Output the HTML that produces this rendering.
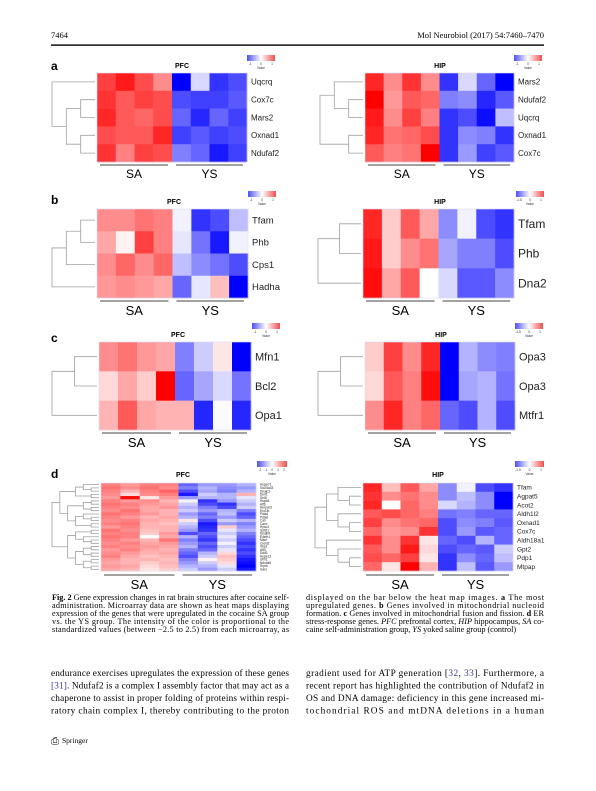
<!DOCTYPE html>
<html><head><meta charset="utf-8"><style>
html,body{margin:0;padding:0;background:#fff;width:596px;height:791px;overflow:hidden}
svg{display:block}
.serif{font-family:"Liberation Serif",serif}
.sans{font-family:"Liberation Sans",sans-serif}
</style></head><body>
<svg id="page" width="596" height="791" viewBox="0 0 596 791" xmlns="http://www.w3.org/2000/svg">
<text x="51" y="38" class="serif" font-size="8.5">7464</text>
<text x="544" y="38" class="serif" font-size="8.5" text-anchor="end">Mol Neurobiol (2017) 54:7460–7470</text>
<rect x="51" y="44.4" width="493" height="1.4" fill="#000"/>
<g id="charts"></g>
<g class="serif" font-size="8.2">
<text x="52" y="600" textLength="237" lengthAdjust="spacing"><tspan font-weight="bold">Fig. 2</tspan>  Gene expression changes in rat brain structures after cocaine self-</text>
<text x="52" y="608" textLength="237" lengthAdjust="spacing">administration. Microarray data are shown as heat maps displaying</text>
<text x="52" y="616" textLength="237" lengthAdjust="spacing">expression of the genes that were upregulated in the cocaine SA group</text>
<text x="52" y="624" textLength="237" lengthAdjust="spacing">vs. the YS group. The intensity of the color is proportional to the</text>
<text x="52" y="632" textLength="237" lengthAdjust="spacing">standardized values (between −2.5 to 2.5) from each microarray, as</text>
<text x="306" y="600" textLength="238" lengthAdjust="spacing">displayed on the bar below the heat map images. <tspan font-weight="bold">a</tspan> The most</text>
<text x="306" y="608" textLength="238" lengthAdjust="spacing">upregulated genes. <tspan font-weight="bold">b</tspan> Genes involved in mitochondrial nucleoid</text>
<text x="306" y="616" textLength="238" lengthAdjust="spacing">formation. <tspan font-weight="bold">c</tspan> Genes involved in mitochondrial fusion and fission. <tspan font-weight="bold">d</tspan> ER</text>
<text x="306" y="624" textLength="238" lengthAdjust="spacing">stress-response genes. <tspan font-style="italic">PFC</tspan> prefrontal cortex, <tspan font-style="italic">HIP</tspan> hippocampus, <tspan font-style="italic">SA</tspan> co-</text>
<text x="306" y="632">caine self-administration group, <tspan font-style="italic">YS</tspan> yoked saline group (control)</text>
</g>
<g class="serif" font-size="9.3">
<text x="51" y="676" textLength="238" lengthAdjust="spacing">endurance exercises upregulates the expression of these genes</text>
<text x="51" y="688.5" textLength="238" lengthAdjust="spacing"><tspan fill="#3a3aa0">[31]</tspan>. Ndufaf2 is a complex I assembly factor that may act as a</text>
<text x="51" y="701" textLength="238" lengthAdjust="spacing">chaperone to assist in proper folding of proteins within respi-</text>
<text x="51" y="713.5" textLength="238" lengthAdjust="spacing">ratory chain complex I, thereby contributing to the proton</text>
<text x="306" y="676" textLength="238" lengthAdjust="spacing">gradient used for ATP generation [<tspan fill="#3a3aa0">32</tspan>, <tspan fill="#3a3aa0">33</tspan>]. Furthermore, a</text>
<text x="306" y="688.5" textLength="238" lengthAdjust="spacing">recent report has highlighted the contribution of Ndufaf2 in</text>
<text x="306" y="701" textLength="238" lengthAdjust="spacing">OS and DNA damage: deficiency in this gene increased mi-</text>
<text x="306" y="713.5" textLength="238" lengthAdjust="spacing">tochondrial ROS and mtDNA deletions in a human</text>
</g>
<g>
<text x="51" y="744" class="serif" font-size="10">⎙</text>
<text x="62" y="743" class="serif" font-size="7.5">Springer</text>
</g>
</svg>
<script>
// ---- data arrays ----
const colsSA = ["SA1","SA2","SA3","SA4"];
const colsYS = ["YS1","YS2","YS3","YS4"];
const aPfcGenes = ["Uqcrq","Cox7c","Mars2","Oxnad1","Ndufaf2"];
const aPfcValues = [
 [.75,.9,.7,.45,-1,-.15,-.8,-.7],
 [.8,.65,.75,.7,-.7,-.75,-.75,-.65],
 [.85,.65,.6,.7,-.6,-.85,-.6,-.75],
 [.7,.65,.65,.85,-.75,-.65,-.75,-.7],
 [.8,.5,.75,.7,-.5,-.6,-.9,-.75]];
const aHipGenes = ["Mars2","Ndufaf2","Uqcrq","Oxnad1","Cox7c"];
const aHipValues = [
 [.85,.45,.8,.45,-.8,-.15,-.6,-1],
 [1,.4,.65,.6,-.5,-.45,-.85,-.65],
 [.9,.45,.75,.5,-.8,-.7,-.95,-.25],
 [.85,.55,.6,.7,-.8,-.45,-.5,-.8],
 [.65,.5,.55,1,-.8,-.4,-.75,-.65]];
const bPfcGenes = ["Tfam","Phb","Cps1","Hadha"];
const bPfcValues = [
 [.45,.45,.55,.5,-.05,-.8,-.7,-.25],
 [.35,.05,.75,.5,-.1,-.55,-.9,-.05],
 [.45,.6,.45,.6,-.25,-.45,-.55,-.7],
 [.4,.45,.4,.35,-.6,-.1,.25,-1]];
const bHipGenes = ["Tfam","Phb","Dna2"];
const bHipValues = [
 [.85,.2,.65,.35,-.45,-.05,-.7,-.8],
 [.9,.2,.45,.55,-.35,-.5,-.5,-.7],
 [.95,.35,.65,0,-.15,-.65,-.65,-.45]];
const cPfcGenes = ["Mfn1","Bcl2","Opa1"];
const cPfcValues = [
 [.45,.55,.4,.35,-.5,-.2,.1,-1],
 [.15,.35,.2,1,-.6,-.35,-.15,-.55],
 [.3,.65,.35,.3,.3,-.85,-.02,-.85]];
const cHipGenes = ["Opa3","Opa3","Mtfr1"];
const cHipValues = [
 [.2,.75,.45,.85,-1,-.3,-.45,-.5],
 [.15,.65,.5,.95,-1,-.35,-.3,-.55],
 [.45,.85,.5,.6,-.6,-.7,-.3,-.7]];
const dPfcGenes = ["Aspscr1","Slc25a33","Dnajc3","Derl1","Sel1l","Hspa5","Atf6","Herpud1","Ero1lb","Pdia4","Pdia6","Calr","Canx","Hyou1","Sdf2l1","Dnajb9","Edem1","Manf","Creld2","Xbp1","Atf4","Ddit3","Hspa13","Ufm1","Ndufaf4","Srprb","Gars"];
const dPfcValues = [
 [.5,.4,.5,.5,-.6,-.4,-.4,-.3],[.55,.45,.55,.45,-.5,-.3,-.45,-.4],[.5,.3,.5,.6,-.7,-.35,-.5,-.3],
 [.45,.15,.45,.5,-.9,-.2,-.3,.3],[.4,.95,.1,.4,-.4,-.3,-.3,-.1],[.5,.4,.45,.3,-.05,-.8,-.4,-.2],
 [.55,.5,.4,.35,-.2,-.7,-.8,-.3],[.5,.45,.35,.4,-.3,-.5,-.7,-.2],[.45,.55,.35,.3,-.2,-.4,-.3,-.5],
 [.55,.5,.4,.3,-.4,-.6,-.25,-.7],[.5,.4,.3,.35,-.3,-.5,-.4,-.6],[.45,.5,.35,.3,.1,-.7,-.2,-.3],
 [.5,.55,.3,.25,-.2,-.9,-.4,-.5],[.4,.5,.3,.3,-.3,-.85,.2,-.4],[.55,.45,.25,.3,-.4,-.8,-.1,-.3],
 [.5,.5,.2,.4,-.7,-.6,-.2,-.5],[.55,.5,0,.35,-.3,-.7,-.1,-.6],[.5,.4,.3,.55,-.5,-.8,-.2,-.7],
 [.45,.5,.35,.4,-.4,-.6,-.05,-.8],[.5,.45,.4,.35,-.3,-.7,-.2,-.7],[.4,.5,.35,.3,-.5,-.6,-.1,-.8],
 [.45,.4,.3,.35,-.6,-.3,.15,-.7],[.5,.35,.25,.3,-.7,-.2,.25,-.8],[.4,.3,.3,.25,-.5,.05,.2,-.9],
 [.35,.3,.2,.3,-.4,-.2,.15,-.95],[.4,.35,.15,.25,-.3,-.3,-.1,-1],[.35,.3,.1,.2,-.2,-.4,-.2,-.9]];
const dHipGenes = ["Tfam","Agpat5","Acot2","Aldh1l2","Oxnad1","Cox7c","Aldh18a1","Gpt2","Pdp1","Mtpap"];
const dHipValues = [
 [.85,.25,.65,.35,-.45,-.05,-.7,-.8],[.8,.45,.55,.45,-.45,-.25,-.45,-1],[.85,0,.6,.45,-.15,-.3,-.45,-1],
 [.65,.7,.6,.5,-.55,-.5,-.6,-.6],[.75,.45,.55,.6,-.7,-.45,-.5,-.65],[.6,.4,.45,.8,-.7,-.4,-.65,-.6],
 [.8,.45,.8,.1,-.6,-.7,-.3,-.6],[.65,.45,.9,.15,-.7,-.6,-.65,-.2],[.7,.6,.75,.1,-.8,-.45,-.6,-.25],
 [.6,.1,1,.3,-.8,-.25,-.65,-.4]];
const legendTicksSmall = ["-1","0","1"];
const legendTicksHip = ["-1.5","0","1"];
const legendTicksD = ["-2","-1","0","1","2"];

const NS = "http://www.w3.org/2000/svg";
const root = document.getElementById("charts");
function el(tag, attrs, parent){const e=document.createElementNS(NS,tag);for(const k in attrs)e.setAttribute(k,attrs[k]);(parent||root).appendChild(e);return e;}
function color(v){v=Math.max(-1,Math.min(1,v));if(v>=0){const g=Math.round(255*(1-v));return `rgb(255,${g},${g})`;}const g=Math.round(255*(1+v));return `rgb(${g},${g},255)`;}
function depth(n){return typeof n==="number"?0:1+Math.max(depth(n[0]),depth(n[1]));}

function heat(p){
  const g = el("g",{});
  
  
  const nR=p.values.length, nC=colsSA.length+colsYS.length;
  const cw=(p.x1-p.x0)/nC, rh=(p.y1-p.y0)/nR;
  const xs=c=>p.x0+c*cw, ys=r=>p.y0+r*rh;
  p.values.forEach((row,r)=>row.forEach((v,c)=>{
    const cell=el("rect",{x:xs(c),y:ys(r),width:cw+0.3,height:rh+0.3,fill:color(v)},g);
    
    
  }));
  el("rect",{x:p.x0,y:p.y0,width:p.x1-p.x0,height:p.y1-p.y0,fill:"none",stroke:"#dde","stroke-width":0.6},g);
  p.genes.forEach((gn,r)=>{
    const t=el("text",{x:p.x1+4,y:ys(r)+rh/2+p.fs*0.35,"font-size":p.fs,"font-family":"Liberation Sans, sans-serif",fill:"#222"},g);
    t.textContent=gn;
    
    
  });
  const unit=(p.x0-2-p.dx)/depth(p.tree);
  function draw(n){
    if(typeof n==="number") return {x:p.x0-2,y:ys(n)+rh/2};
    const a=draw(n[0]), b=draw(n[1]);
    const x=p.x0-2-depth(n)*unit;
    el("path",{d:`M${a.x},${a.y}H${x}V${b.y}H${b.x}`,fill:"none",stroke:"#a0a0a0","stroke-width":0.8},g);
    return {x:x,y:(a.y+b.y)/2};
  }
  draw(p.tree);
  const mid=(p.x0+p.x1)/2, by=p.y1+p.bo;
  [["SA",p.x0+3,mid-4],["YS",mid+4,p.x1-4]].forEach(([lab,a,b])=>{
    const ln=el("line",{x1:a,x2:b,y1:by,y2:by,stroke:"#444","stroke-width":0.9},g);
    
    
    const t=el("text",{x:(a+b)/2,y:by+p.gs+1,"text-anchor":"middle","font-size":p.gs,"font-family":"Liberation Sans, sans-serif"},g);
    t.textContent=lab;
    
    
  });
  const ti=el("text",{x:p.tx,y:p.ty,"text-anchor":"middle","font-size":p.tfs,"font-weight":"bold","font-family":"Liberation Sans, sans-serif"},g);
  ti.textContent=p.title;
  
  
  legend(p.lx,p.ly,p.lw,p.ticks,g);
}
let gid=0;
function legend(x,y,w,ticks,g){
  const id="lg"+(gid++);
  const defs=el("defs",{},g);
  const lg=el("linearGradient",{id:id},defs);
  el("stop",{offset:"0","stop-color":"#5050f0"},lg);
  el("stop",{offset:"0.5","stop-color":"#fff"},lg);
  el("stop",{offset:"1","stop-color":"#f05050"},lg);
  const r=el("rect",{x:x,y:y,width:w,height:6,fill:`url(#${id})`},g);
  
  
  ticks.forEach((t,i)=>{
    const tx=x+3+i*(w-6)/(ticks.length-1);
    const tt=el("text",{x:tx,y:y+10,"text-anchor":"middle","font-size":3.2,"font-family":"Liberation Sans, sans-serif",fill:"#333"},g);
    tt.textContent=t;
  });
  const v=el("text",{x:x+w/2,y:y+14,"text-anchor":"middle","font-size":3.2,"font-family":"Liberation Sans, sans-serif",fill:"#333"},g);
  v.textContent="Value";
}
function letter(t,x,y){const e=el("text",{x:x,y:y,"font-size":12,"font-weight":"bold","font-family":"Liberation Sans, sans-serif"});e.textContent=t;
  
  }

letter("a",51,70);letter("b",51,204);letter("c",51,342);letter("d",51,478);
heat({name:"heatmap-a-pfc",genes:aPfcGenes,values:aPfcValues,x0:97,x1:247,y0:73,y1:162,dx:52,fs:8,gs:12,bo:3,tree:[0,[[1,2],[3,4]]],title:"PFC",tx:182,ty:68,tfs:7,lx:247,ly:55,lw:28,ticks:legendTicksSmall});
heat({name:"heatmap-a-hip",genes:aHipGenes,values:aHipValues,x0:365,x1:514,y0:73,y1:162,dx:320,fs:8,gs:12,bo:3,tree:[[0,[1,2]],[3,4]],title:"HIP",tx:440,ty:68,tfs:7,lx:514,ly:55,lw:28,ticks:legendTicksSmall});
heat({name:"heatmap-b-pfc",genes:bPfcGenes,values:bPfcValues,x0:97,x1:248,y0:209,y1:298,dx:52,fs:9.5,gs:13,bo:3,tree:[[[0,1],2],3],title:"PFC",tx:174,ty:204,tfs:7,lx:248,ly:191,lw:28,ticks:legendTicksSmall});
heat({name:"heatmap-b-hip",genes:bHipGenes,values:bHipValues,x0:363,x1:514,y0:209,y1:298,dx:318,fs:12,gs:13,bo:3,tree:[[0,1],2],title:"HIP",tx:440,ty:204,tfs:7,lx:516,ly:191,lw:28,ticks:legendTicksHip});
heat({name:"heatmap-c-pfc",genes:cPfcGenes,values:cPfcValues,x0:99,x1:251,y0:342,y1:430,dx:52,fs:11,gs:13,bo:3,tree:[[0,1],2],title:"PFC",tx:178,ty:337,tfs:7,lx:252,ly:323,lw:28,ticks:legendTicksSmall});
heat({name:"heatmap-c-hip",genes:cHipGenes,values:cHipValues,x0:365,x1:515,y0:342,y1:430,dx:318,fs:11,gs:13,bo:3,tree:[[0,1],2],title:"HIP",tx:441,ty:337,tfs:7,lx:515,ly:323,lw:28,ticks:legendTicksHip});
heat({name:"heatmap-d-pfc",genes:dPfcGenes,values:dPfcValues,x0:101,x1:256,y0:483,y1:571,dx:52,fs:3.2,gs:13,bo:4,tree:[[[[0,[1,2]],[3,4]],[[[5,6],[7,8]],[[9,[10,11]],[12,13]]]],[[[14,15],[16,[17,18]]],[[[19,20],[21,22]],[[23,24],[25,26]]]]],title:"PFC",tx:183,ty:477,tfs:7,lx:257,ly:461,lw:30,ticks:legendTicksD});
heat({name:"heatmap-d-hip",genes:dHipGenes,values:dHipValues,x0:363,x1:513,y0:483,y1:571,dx:315,fs:6.5,gs:13,bo:4,tree:[[[0,[1,2]],[3,[4,5]]],[6,[7,[8,9]]]],title:"HIP",tx:438,ty:477,tfs:7,lx:515,ly:461,lw:29,ticks:legendTicksHip});
</script>
</body></html>
